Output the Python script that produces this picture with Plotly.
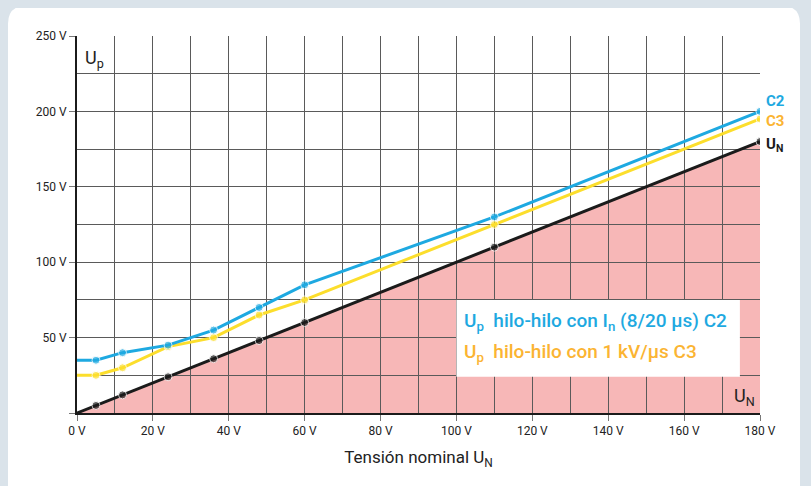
import plotly.graph_objects as go

# tension nominal U_N (V) and protection level U_p (V)
un_x = [0, 5, 12, 24, 36, 48, 60, 110, 180]
un_y = [0, 5, 12, 24, 36, 48, 60, 110, 180]
c2_y = [35, 35, 40, 45, 55, 70, 85, 130, 200]
c3_y = [25, 25, 30, 44, 50, 65, 75, 125, 195]

x_ticks = [0, 20, 40, 60, 80, 100, 120, 140, 160, 180]
y_ticks = [0, 50, 100, 150, 200, 250]

BLUE = "#1ea9e1"
YELLOW = "#fcde2c"
ORANGE = "#fbb432"
BLACK = "#1b1b1b"
PINK = "#f7b7b7"
GRAY = "#d2d5d7"
BG = "#dae3ea"
FONT = "Roboto"

msize = [0] + [8] * (len(un_x) - 1)

fig = go.Figure()
for y, col in [(un_y, BLACK), (c3_y, YELLOW), (c2_y, BLUE)]:
    fig.add_trace(go.Scatter(x=un_x, y=y, mode="lines+markers",
                             line=dict(color=col, width=3),
                             marker=dict(color=col, size=msize),
                             showlegend=False, hoverinfo="skip"))

# pink area below the U_N line
path = "M " + " L ".join(f"{a},{b}" for a, b in zip(un_x, un_y))
path += f" L {un_x[-1]},0 Z"
fig.add_shape(type="path", path=path, xref="x", yref="y",
              fillcolor=PINK, line_width=0, layer="below")

# white rounded panel
x0, x1, y0, y1 = -0.101, 1.0586, -0.25, 1.08
rx, ry = 0.0264, 0.0477
panel = (f"M {x0+rx},{y1} L {x1-rx},{y1} Q {x1},{y1} {x1},{y1-ry} "
         f"L {x1},{y0+ry} Q {x1},{y0} {x1-rx},{y0} L {x0+rx},{y0} "
         f"Q {x0},{y0} {x0},{y0+ry} L {x0},{y1-ry} Q {x0},{y1} {x0+rx},{y1} Z")
fig.add_shape(type="path", path=panel, xref="paper", yref="paper",
              fillcolor="white", line_width=0, layer="below")

# legend box
fig.add_shape(type="rect", xref="x", yref="y", x0=100, x1=174.7, y0=24, y1=75,
              fillcolor="white", line_width=0, layer="above")

ann = [
    dict(x=101.5, y=60.5, text="U<sub>p</sub>  hilo-hilo con I<sub>n</sub> (8/20 µs) C2",
         font=dict(color=BLUE, size=19, family=FONT, weight=500)),
    dict(x=101.5, y=40, text="U<sub>p</sub>  hilo-hilo con 1 kV/µs C3",
         font=dict(color=ORANGE, size=19, family=FONT, weight=500)),
    dict(x=1.5, y=244, text="U<sub>p</sub>", yanchor="top",
         font=dict(color="#222", size=18, family=FONT)),
    dict(x=180, y=1, text="U<sub>N</sub>", xanchor="right", yanchor="bottom", xshift=-3,
         font=dict(color="#222", size=18, family=FONT)),
    dict(x=180, y=207, text="<b>C2</b>", xshift=4, font=dict(color=BLUE, size=15, family=FONT)),
    dict(x=180, y=193.5, text="<b>C3</b>", xshift=4, font=dict(color=ORANGE, size=15, family=FONT)),
    dict(x=180, y=178, text="<b>U<sub>N</sub></b>", xshift=4, font=dict(color=BLACK, size=15, family=FONT)),
]
for a in ann:
    a.setdefault("xanchor", "left")
    a.setdefault("yanchor", "middle")
    fig.add_annotation(xref="x", yref="y", showarrow=False, **a)

fig.update_layout(
    width=803, height=478,
    margin=dict(l=69, r=51, t=28, b=73),
    paper_bgcolor=BG,
    plot_bgcolor=GRAY,
    font=dict(family=FONT, size=12, color="#222"),
    xaxis=dict(range=[0, 180], tickvals=x_ticks, ticktext=[f"{v} V" for v in x_ticks],
               showgrid=True, gridcolor="#5a5a5a", gridwidth=1,
               minor=dict(dtick=10, tick0=0, showgrid=True, gridcolor="#5a5a5a", gridwidth=1),
               ticks="outside", ticklen=6, tickcolor="#777",
               showline=True, linecolor=BLACK, linewidth=2, zeroline=False,
               title=dict(text="Tensión nominal U<sub>N</sub>", font=dict(size=17), standoff=14)),
    yaxis=dict(range=[0, 250], tickvals=y_ticks,
               ticktext=[""] + [f"{v} V" for v in y_ticks[1:]],
               showgrid=True, gridcolor="#5a5a5a", gridwidth=1,
               minor=dict(dtick=25, tick0=0, showgrid=True, gridcolor="#5a5a5a", gridwidth=1),
               ticks="outside", ticklen=6, tickcolor="#777",
               showline=True, linecolor=BLACK, linewidth=2, zeroline=False),
)

fig.write_html("out.html", post_script=f"document.body.style.background='{BG}';")
